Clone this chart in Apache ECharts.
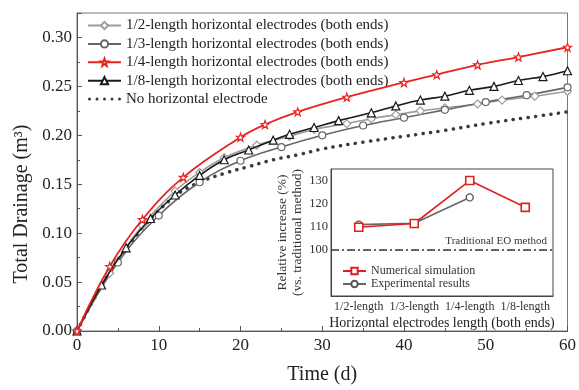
<!DOCTYPE html>
<html>
<head>
<meta charset="utf-8">
<script src="https://cdn.jsdelivr.net/npm/echarts@6/dist/echarts.min.js"></script>
<style>
  html, body { margin: 0; padding: 0; background: #fff; }
  #main { width: 579px; height: 390px; }
</style>
</head>
<body>
<div id="main"></div>
<script>
// main chart: total drainage vs time
const daysHalf = [0, 4, 8, 12, 15, 18, 22, 26, 29, 33, 36, 39, 42, 45, 49, 52, 56, 60];
const drainHalf = [0, 0.059, 0.108, 0.143, 0.162, 0.177, 0.190, 0.199, 0.206, 0.212, 0.217, 0.221, 0.225, 0.228, 0.232, 0.236, 0.240, 0.245];

const daysThird = [0, 5, 10, 15, 20, 25, 30, 35, 40, 45, 50, 55, 60];
const drainThird = [0, 0.070, 0.118, 0.152, 0.174, 0.188, 0.200, 0.210, 0.218, 0.226, 0.234, 0.241, 0.249];

const daysQuarter = [0, 4, 8, 13, 20, 23, 27, 33, 40, 44, 49, 54, 60];
const drainQuarter = [0, 0.066, 0.114, 0.157, 0.198, 0.211, 0.224, 0.239, 0.254, 0.262, 0.272, 0.280, 0.290];

const daysEighth = [0, 3, 6, 9, 12, 15, 18, 21, 24, 26, 29, 32, 36, 39, 42, 45, 48, 51, 54, 57, 60];
const drainEighth = [0, 0.047, 0.085, 0.115, 0.139, 0.159, 0.175, 0.185, 0.195, 0.201, 0.208, 0.215, 0.223, 0.230, 0.236, 0.240, 0.246, 0.250, 0.256, 0.260, 0.266];

const daysNone = [0, 4, 8, 12, 15, 18, 21, 24, 27, 30, 35, 40, 45, 50, 55, 60];
const drainNone = [0, 0.060, 0.105, 0.138, 0.152, 0.161, 0.168, 0.175, 0.180, 0.186, 0.193, 0.199, 0.205, 0.212, 0.218, 0.224];

// inset: relative increase
const insetCats = ["1/2-length", "1/3-length", "1/4-length", "1/8-length"];
const simIncrease = [109.8, 111.4, 130, 118.4];
const expIncrease = [110.9, 111.5, 122.7, null];
const traditionalLevel = 100;

const font = "Liberation Serif";
const star = "path://M100,0 L123.5,67.6 L195.1,69.1 L138,112.4 L158.8,180.9 L100,140 L41.2,180.9 L62,112.4 L4.9,69.1 L76.5,67.6 Z";
// five dots for the dotted legend entry
const dots = "path://" + [18, 98, 178, 258, 338]
  .map((cx) => `M${cx - 16},18 a16,16 0 1,0 32,0 a16,16 0 1,0 -32,0 Z`)
  .join(" ");

const zip = (xs, ys) => xs.map((x, i) => [x, ys[i]]);

function curve(name, xs, ys, color, symbol, size, width, z) {
  return {
    name: name,
    type: "line",
    xAxisIndex: 0,
    yAxisIndex: 0,
    data: zip(xs, ys),
    smooth: 0.4,
    symbol: symbol,
    symbolSize: size,
    z: z,
    lineStyle: { color: color, width: width },
    itemStyle: { color: "#fff", borderColor: color, borderWidth: 1.2 },
  };
}

const chart = echarts.init(document.getElementById("main"));
chart.setOption({
  animation: false,
  textStyle: { fontFamily: font },
  grid: [
    { left: 77, right: 8, top: 13, bottom: 53, show: true, borderColor: "#777", borderWidth: 1 },
    { left: 331, top: 169, width: 222, height: 127, show: true, backgroundColor: "#fff", borderColor: "#444", borderWidth: 1, z: 5 },
  ],
  legend: [
    {
      orient: "vertical",
      left: 82,
      top: 13,
      itemWidth: 33,
      itemHeight: 9,
      itemGap: 3.4,
      textStyle: { fontFamily: font, fontSize: 15, color: "#222" },
      data: [
        "1/2-length horizontal electrodes (both ends)",
        "1/3-length horizontal electrodes (both ends)",
        "1/4-length horizontal electrodes (both ends)",
        "1/8-length horizontal electrodes (both ends)",
        { name: "No horizontal electrode", icon: dots, itemStyle: { color: "#3a3a3a" } },
      ],
    },
    {
      orient: "vertical",
      left: 337,
      top: 260,
      itemWidth: 23,
      itemHeight: 8,
      itemGap: 1,
      z: 10,
      textStyle: { fontFamily: font, fontSize: 12, color: "#333" },
      data: ["Numerical simulation", "Experimental results"],
    },
  ],
  xAxis: [
    {
      type: "value",
      gridIndex: 0,
      min: 0,
      max: 60,
      interval: 10,
      name: "Time (d)",
      nameLocation: "middle",
      nameGap: 34,
      nameTextStyle: { fontFamily: font, fontSize: 20, color: "#222" },
      axisLine: { lineStyle: { color: "#555", width: 1 } },
      axisTick: { inside: true, length: 5, lineStyle: { color: "#555" } },
      minorTick: { show: true, splitNumber: 2, length: 3, lineStyle: { color: "#555" } },
      splitLine: { show: false },
      axisLabel: { fontFamily: font, fontSize: 17, color: "#222", margin: 6 },
    },
    {
      type: "category",
      gridIndex: 1,
      data: insetCats,
      name: "Horizontal electrodes length (both ends)",
      nameLocation: "middle",
      nameGap: 20,
      nameTextStyle: { fontFamily: font, fontSize: 14, color: "#222" },
      axisLine: { lineStyle: { color: "#444" } },
      axisTick: { show: false },
      axisLabel: { fontFamily: font, fontSize: 12, color: "#333", margin: 5, interval: 0 },
      z: 6,
    },
  ],
  yAxis: [
    {
      type: "value",
      gridIndex: 0,
      min: 0,
      max: 0.325,
      interval: 0.05,
      axisLine: { show: true, lineStyle: { color: "#555", width: 1 } },
      axisTick: { show: true, inside: true, length: 5, lineStyle: { color: "#555" } },
      minorTick: { show: true, splitNumber: 2, length: 3, lineStyle: { color: "#555" } },
      splitLine: { show: false },
      axisLabel: {
        fontFamily: font,
        fontSize: 17,
        color: "#222",
        margin: 5,
        showMaxLabel: false,
        formatter: (v) => v.toFixed(2),
      },
    },
    {
      type: "value",
      gridIndex: 1,
      min: 80,
      max: 135,
      interval: 10,
      name: "Relative increase (%)\n(vs. traditional method)",
      nameLocation: "middle",
      nameGap: 16,
      nameTextStyle: { fontFamily: font, fontSize: 13.5, color: "#333", lineHeight: 15 },
      axisLine: { show: true, lineStyle: { color: "#444" } },
      axisTick: { show: false },
      splitLine: { show: false },
      axisLabel: {
        fontFamily: font,
        fontSize: 12.5,
        color: "#333",
        margin: 3,
        formatter: (v) => (v >= 100 && v <= 130 ? String(v) : ""),
      },
      z: 6,
    },
  ],
  graphic: [
    {
      type: "text",
      x: 22,
      y: 204,
      rotation: Math.PI / 2,
      style: {
        text: "Total Drainage (m³)",
        fontFamily: font,
        fontSize: 20,
        fill: "#222",
        align: "center",
        verticalAlign: "middle",
      },
    },
  ],
  series: [
    curve("1/2-length horizontal electrodes (both ends)", daysHalf, drainHalf, "#9c9c9c", "diamond", 8, 1.6, 3),
    curve("1/3-length horizontal electrodes (both ends)", daysThird, drainThird, "#666", "circle", 7, 1.6, 3),
    curve("1/8-length horizontal electrodes (both ends)", daysEighth, drainEighth, "#1a1a1a", "triangle", 8, 1.6, 4),
    curve("1/4-length horizontal electrodes (both ends)", daysQuarter, drainQuarter, "#e8231e", star, 8, 1.8, 5),
    {
      name: "No horizontal electrode",
      type: "line",
      data: zip(daysNone, drainNone),
      smooth: 0.4,
      showSymbol: false,
      symbol: "none",
      z: 2,
      lineStyle: { color: "#3a3a3a", width: 3.5, type: [0.1, 7.5], cap: "round" },
      itemStyle: { color: "#3a3a3a" },
    },
    {
      name: "Numerical simulation",
      type: "line",
      xAxisIndex: 1,
      yAxisIndex: 1,
      data: simIncrease,
      symbol: "rect",
      symbolSize: 8,
      z: 8,
      lineStyle: { color: "#e02020", width: 1.6 },
      itemStyle: { color: "#fff", borderColor: "#e02020", borderWidth: 1.6 },
      markLine: {
        silent: true,
        symbol: "none",
        lineStyle: { color: "#333", width: 1.5, type: [8, 3, 2, 3] },
        label: {
          show: true,
          position: "insideEndTop",
          formatter: "Traditional EO method",
          fontFamily: font,
          fontSize: 11,
          color: "#333",
          distance: [6, 3],
        },
        data: [{ yAxis: traditionalLevel }],
      },
    },
    {
      name: "Experimental results",
      type: "line",
      xAxisIndex: 1,
      yAxisIndex: 1,
      data: expIncrease,
      symbol: "circle",
      symbolSize: 7,
      z: 7,
      lineStyle: { color: "#666", width: 1.6 },
      itemStyle: { color: "#fff", borderColor: "#555", borderWidth: 1.4 },
    },
  ],
});
</script>
</body>
</html>
